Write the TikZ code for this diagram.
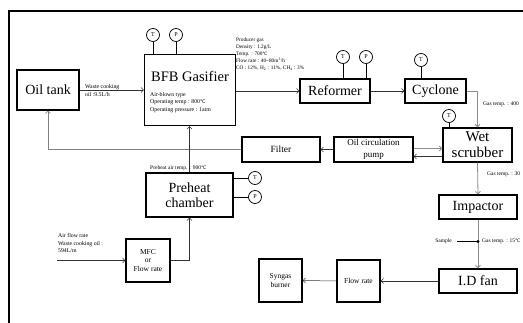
\documentclass[tikz,border=0pt]{standalone}
\usepackage{fontspec}
\setmainfont{Liberation Serif}
\newfontfamily\djv{DejaVu Sans}
\usetikzlibrary{arrows.meta,calc}
\newcommand{\degC}{{\djv\scalebox{0.85}{℃}}}
\begin{document}
\begin{tikzpicture}[x=1pt,y=-1pt,
  box/.style={draw, line width=1.3pt, inner sep=0pt, align=center},
  bigf/.style={font=\fontsize{14}{15}\selectfont},
  conn/.style={line width=0.5pt, draw=black!80, -{Straight Barb[length=2.5pt,width=5pt]}},
  gconn/.style={line width=0.8pt, draw=black!45, -{Straight Barb[length=2.5pt,width=5pt]}},
  gauge/.style={draw, circle, line width=0.7pt, minimum size=13pt, inner sep=0pt, font=\fontsize{6}{6}\selectfont},
  note/.style={font=\fontsize{5.5}{7}\selectfont, align=left, inner sep=0pt, anchor=west},
  gline/.style={line width=0.7pt}
]
\useasboundingbox (0,0) rectangle (523,323);
\draw[line width=1.2pt] (9,323) -- (9,11) -- (523,11);

% boxes
\node[box, bigf, minimum width=62pt, minimum height=40pt] (oil) at (48,90) {Oil tank};
\node[box, minimum width=91pt, minimum height=71pt] (gas) at (190,90) {};
\node[inner sep=0pt, font=\fontsize{14.5}{15}\selectfont] (gastitle) at (190,76) {BFB Gasifier};
\node[note, font=\fontsize{5.8}{7.5}\selectfont] (gasinfo) at (150,102.5) {Air-blown type\\Operating temp : 800\degC\\Operating pressure : 1atm};
\node[box, bigf, minimum width=70pt, minimum height=24pt] (ref) at (335,91) {Reformer};
\node[box, bigf, minimum width=61pt, minimum height=24pt] (cyc) at (435.5,91) {Cyclone};
\node[box, font=\fontsize{15}{16}\selectfont, minimum width=69pt, minimum height=34pt] (scr) at (477.5,145) {Wet\\scrubber};
\node[box, font=\fontsize{9}{12}\selectfont, minimum width=79pt, minimum height=25pt] (pump) at (373.5,149.5) {Oil circulation\\pump};
\node[box, font=\fontsize{9.5}{11}\selectfont, minimum width=78pt, minimum height=25pt] (filt) at (281,149.5) {Filter};
\node[box, bigf, minimum width=87pt, minimum height=44pt] (pre) at (189.5,195) {Preheat\\chamber};
\node[box, font=\fontsize{7.5}{8.5}\selectfont, minimum width=44pt, minimum height=43pt] (mfc) at (148,260.5) {MFC\\or\\Flow rate};
\node[box, bigf, minimum width=78pt, minimum height=24pt] (imp) at (478,207) {Impactor};
\node[box, bigf, minimum width=78pt, minimum height=24pt] (fan) at (478,281) {I.D fan};
\node[box, font=\fontsize{7.5}{9}\selectfont, minimum width=43pt, minimum height=42pt] (flow) at (358.5,281) {Flow rate};
\node[box, font=\fontsize{7.5}{9}\selectfont, minimum width=43pt, minimum height=43pt] (syn) at (280.5,280.5) {Syngas\\burner};

% gauges
\node[gauge] (gT) at (153,35) {T};
\node[gauge] (gP) at (176,35) {P};
\node[gauge] (rT) at (343,57) {T};
\node[gauge] (rP) at (366,57) {P};
\node[gauge] (cT) at (421,60) {T};
\node[gauge] (sT) at (449,116) {T};
\node[gauge] (pT) at (255,178) {T};
\node[gauge] (pP) at (255,197) {P};
\foreach \g/\b in {gT/gas, gP/gas, rT/ref, rP/ref, cT/cyc, sT/scr}
  \draw[gline] (\g.south) -- (\g.south |- \b.north);
\draw[gline] (pT.west) -- (pT.west -| pre.east);
\draw[gline] (pP.west) -- (pP.west -| pre.east);

% notes
\node[note, font=\fontsize{5.8}{7.5}\selectfont] (wco) at (85,90.5) {Waste cooking\\oil :9.5L/h};
\node[note, font=\fontsize{5.3}{7}\selectfont] (prod) at (236,54) {Producer gas\\Density : 1.2g/L\\Temp. : 700\degC\\Flow rate : 40\textasciitilde80m\textsuperscript{3}/h\\CO : 12\%, H\textsubscript{2} : 11\%, CH\textsubscript{4} : 3\%};
\node[note] (g400) at (483,104) {Gas temp. : 400};
\node[note] (g30) at (487,174) {Gas temp. : 30};
\node[note] (g15) at (482,241.5) {Gas temp. : 15\degC};
\node[note, anchor=east] (sample) at (452,241.5) {Sample};
\node[note] (pat) at (150,168) {Preheat air temp. : 900\degC};
\node[note, font=\fontsize{5.8}{7.2}\selectfont] (air) at (58,243) {Air flow rate\\Waste cooking oil :\\594L/m};

% connectors
\draw[conn] (oil.east) -- (gas.west |- oil.east);
\draw[conn] (gas.east |- ref.west) -- (ref.west);
\draw[conn] (ref) -- (cyc);
\draw[gconn] (cyc.east) -| (scr.north);
\draw[conn] (pump.west) -- (filt.east);
\draw[gconn] ($(pump.east)+(0,-1)$) -- ($(scr.west |- pump.east)+(0,-1)$);
\draw[conn] ($(scr.west |- pump.east)+(0,7)$) -- ($(pump.east)+(0,7)$);
\draw[conn, draw=black!50] (filt.west) -| (oil.south);
\draw[conn] (pre.north) -- (pre.north |- gas.south);
\draw[conn] (mfc.east) -| (pre.south);
\coordinate (airin) at (57,260.5);
\draw[conn] (airin) -- (mfc.west);
\draw[gconn] (scr.south) -- (imp.north);
\draw[gconn] (imp.south) -- (fan.north);
\coordinate (dot) at (478,241.5);
\fill (dot) circle (1.6);
\draw[line width=0.5pt] ($(sample.east)+(5,0)$) -- (dot);
\draw[conn] (fan.west) -- (flow.east);
\draw[conn] (flow.west) -- (syn.east);
\end{tikzpicture}
\end{document}
